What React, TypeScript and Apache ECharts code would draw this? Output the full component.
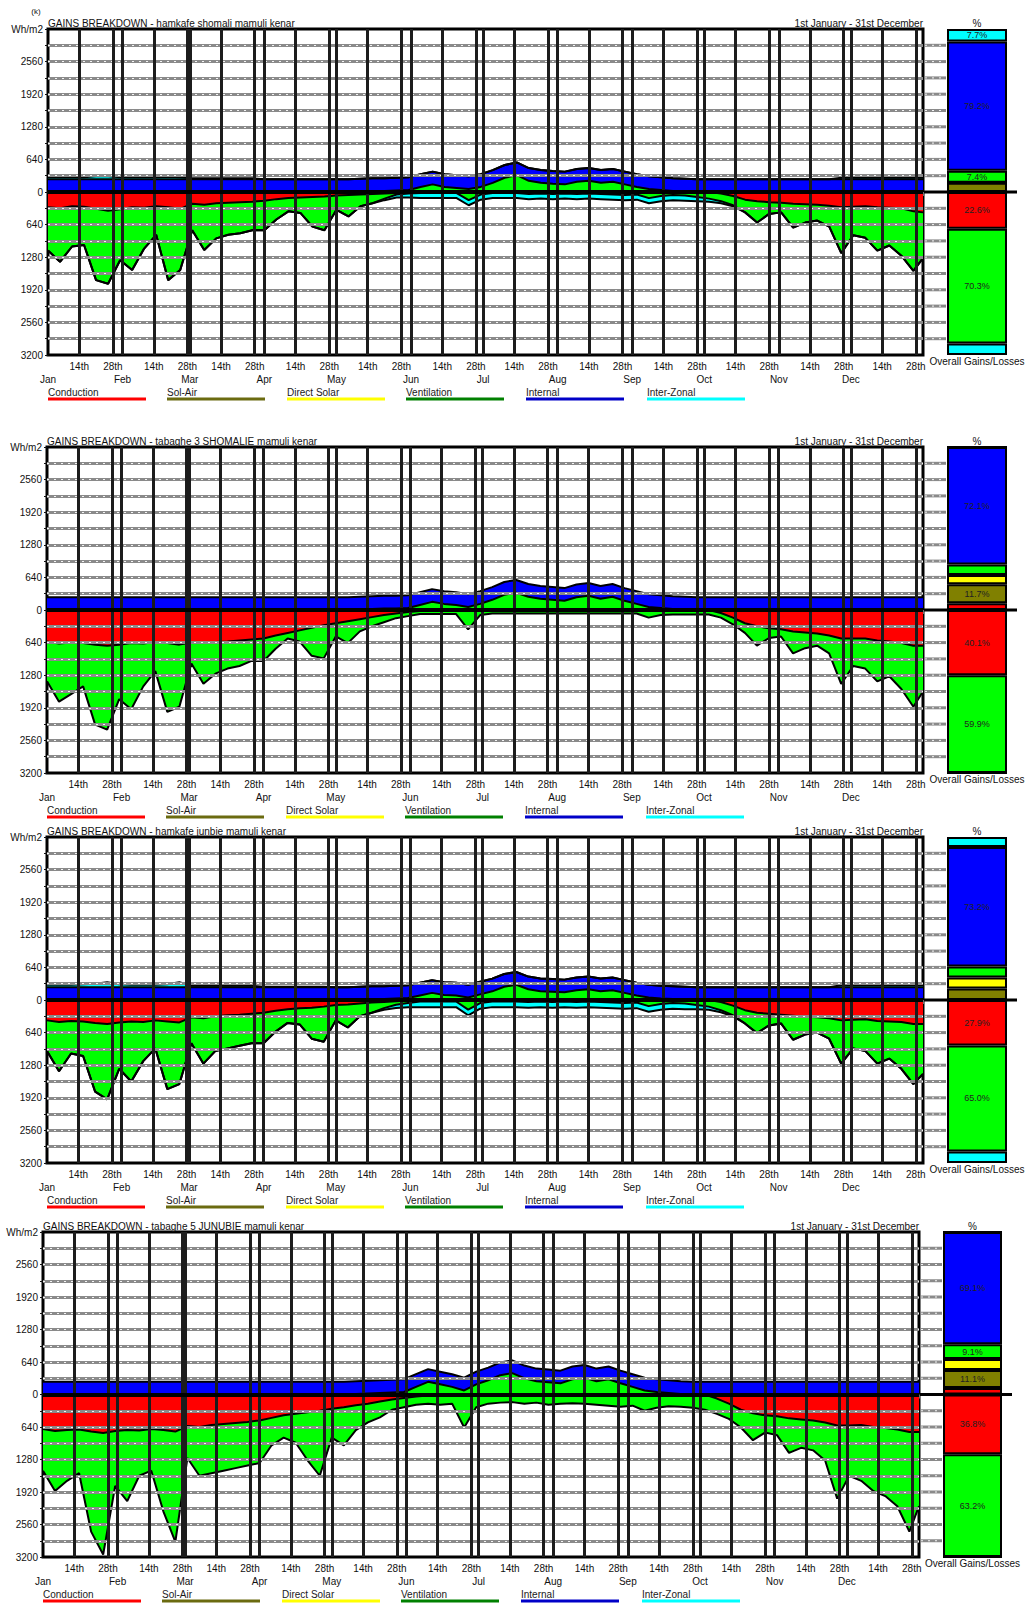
import React, { useEffect, useRef } from 'react';
import * as echarts from 'echarts';

// ---------- shared axis data ----------
const DAYS = [1,6,11,16,21,26,31,36,41,46,51,56,61,66,71,76,81,86,91,96,101,106,111,116,121,126,131,136,141,146,151,156,161,166,171,176,181,186,191,196,201,206,211,216,221,226,231,236,241,246,251,256,261,266,271,276,281,286,291,296,301,306,311,316,321,326,331,336,341,346,351,356,361,365];
const MONTHS = ['Jan','Feb','Mar','Apr','May','Jun','Jul','Aug','Sep','Oct','Nov','Dec'];
const MONTH_START_DAYS = [1,32,60,91,121,152,182,213,244,274,305,335];
const TICK_DAYS = [14,28,45,59,73,87,104,118,134,148,165,179,195,209,226,240,257,271,287,301,318,332,348,362];
const TICK_LABELS = ['14th','28th','14th','28th','14th','28th','14th','28th','14th','28th','14th','28th','14th','28th','14th','28th','14th','28th','14th','28th','14th','28th','14th','28th'];
const VLINE_DAYS = [14,28,32,45,59,60,73,87,91,104,118,121,134,148,152,165,179,182,195,209,213,226,240,244,257,271,274,287,301,305,318,332,335,348,362];
const H_GRID_VALUES = [-2880,-2560,-2240,-1920,-1600,-1280,-960,-640,-320,320,640,960,1280,1600,1920,2240,2560,2880];

const LEGEND_NAMES = ['Conduction','Sol-Air','Direct Solar','Ventilation','Internal','Inter-Zonal'];
const LEGEND_COLORS = ['#ff0000','#6b6b10','#ffff00','#008000','#0000c8','#00ffff'];
const GAIN_COLORS = ['#ff0000','#808000','#ffff00','#00ff00','#0000ff','#00ffff'];
const LOSS_COLORS = ['#ff0000','#00ff00','#00ffff'];

const TITLES = [
  'GAINS BREAKDOWN - hamkafe shomali mamuli kenar',
  'GAINS BREAKDOWN - tabaghe 3 SHOMALIE mamuli kenar',
  'GAINS BREAKDOWN - hamkafe junbie mamuli kenar',
  'GAINS BREAKDOWN - tabaghe 5 JUNUBIE mamuli kenar',
];

// ---------- panel 1 (Wh/m2, losses as magnitudes) ----------
const COND_LOSS_1 = [300,320,280,290,330,370,340,300,310,280,300,330,230,250,220,210,200,190,170,140,120,110,100,90,70,60,50,40,30,20,10,0,0,0,0,0,0,0,0,0,0,0,0,0,0,0,0,0,0,0,0,0,0,0,0,0,30,80,150,180,200,210,230,240,250,270,300,290,280,300,310,320,380,400];
const VENT_LOSS_1 = [850,1050,790,750,1400,1430,1000,1230,800,560,1430,1200,520,890,690,630,610,560,580,400,260,300,580,660,280,420,230,180,100,30,20,20,20,20,20,160,50,20,20,20,40,30,40,30,40,30,40,50,60,50,120,80,60,70,100,130,150,180,250,420,230,190,470,360,310,410,900,560,620,850,740,930,1170,900];
const IZ_LOSS_1 = [0,0,0,0,0,0,0,0,0,0,0,0,0,0,0,0,0,0,0,0,0,0,0,0,0,0,0,0,30,60,80,100,100,100,100,100,100,100,100,100,100,100,100,100,100,100,100,100,100,100,100,100,100,100,80,60,40,20,0,0,0,0,0,0,0,0,0,0,0,0,0,0,0,0];
const VENT_GAIN_1 = [0,0,0,0,0,0,0,0,0,0,0,0,0,0,0,0,0,0,0,0,0,0,0,0,0,0,10,20,20,30,40,100,150,100,80,60,100,180,280,330,220,180,160,150,200,220,180,200,150,100,60,40,20,10,0,0,0,0,0,0,0,0,0,0,0,0,0,0,0,0,0,0,0,0];
const INTERNAL_1 = [250,250,250,250,250,250,250,250,250,250,250,250,250,250,250,250,250,250,250,250,250,250,250,250,250,250,250,250,250,250,250,250,250,250,250,250,250,250,250,250,250,250,250,250,250,250,250,250,250,250,250,250,250,250,250,250,250,250,250,250,250,250,250,250,250,250,250,250,250,250,250,250,250,250];
const IZ_GAIN_1 = [40,40,40,40,60,60,40,40,40,40,50,40,20,20,20,20,20,20,0,0,0,0,0,0,0,0,0,0,0,0,0,0,0,0,0,0,0,0,0,0,0,0,0,0,0,0,0,0,0,0,0,0,0,0,0,0,0,0,0,0,0,0,0,0,0,0,30,30,30,30,30,30,30,30];
const BAR_GAINS_1 = [0,5.7,0,7.4,79.2,7.7];
const BAR_LOSSES_1 = [22.6,70.3,7.1];

// ---------- panel 2 ----------
const COND_LOSS_2 = [620,660,640,650,680,700,680,650,660,630,650,680,640,650,630,620,600,580,560,500,450,400,350,300,260,220,180,140,100,70,40,20,0,0,0,0,0,0,0,0,0,0,0,0,0,0,0,0,0,0,0,0,0,0,0,0,60,150,260,320,360,380,420,440,460,500,560,560,560,600,620,650,700,700];
const VENT_LOSS_2 = [780,1140,1010,850,1570,1650,1070,1300,840,570,1350,1220,410,800,620,530,500,420,440,260,110,220,550,650,260,430,240,180,140,90,80,60,80,80,80,380,100,70,70,70,70,70,70,70,70,70,70,70,70,70,150,100,90,90,90,90,90,130,190,380,190,140,430,310,240,350,890,540,590,800,680,900,1200,900];
const VENT_GAIN_2 = [0,0,0,0,0,0,0,0,0,0,0,0,0,0,0,0,0,0,0,0,0,0,0,0,0,0,10,20,30,30,40,100,160,120,100,60,120,200,300,340,260,220,200,180,250,280,220,260,180,120,60,40,20,10,0,0,0,0,0,0,0,0,0,0,0,0,0,0,0,0,0,0,0,0];
const INTERNAL_2 = [250,250,250,250,250,250,250,250,250,250,250,250,250,250,250,250,250,250,250,250,250,250,250,250,250,250,250,250,250,250,250,250,250,250,250,250,250,250,250,250,250,250,250,250,250,250,250,250,250,250,250,250,250,250,250,250,250,250,250,250,250,250,250,250,250,250,250,250,250,250,250,250,250,250];
const BAR_GAINS_2 = [4.1,11.7,5.6,6.5,72.1,0];
const BAR_LOSSES_2 = [40.1,59.9,0];

// ---------- panel 3 ----------
const COND_LOSS_3 = [400,430,410,420,450,470,440,420,430,400,420,440,340,360,320,300,290,270,250,210,180,160,150,130,100,90,70,50,40,25,10,0,0,0,0,0,0,0,0,0,0,0,0,0,0,0,0,0,0,0,0,0,0,0,0,0,40,110,200,250,270,290,310,330,340,360,400,390,380,410,420,430,470,470];
const VENT_LOSS_3 = [600,970,640,680,1350,1480,910,1180,770,550,1330,1210,510,890,680,650,610,580,600,410,270,320,610,690,300,450,250,200,120,70,50,30,30,30,30,190,60,30,30,30,40,30,40,30,40,30,40,50,60,50,120,80,60,70,100,130,160,190,260,400,230,170,470,350,300,400,850,560,620,840,730,920,1180,980];
const IZ_LOSS_3 = [0,0,0,0,0,0,0,0,0,0,0,0,0,0,0,0,0,0,0,0,0,0,0,0,0,0,0,0,30,60,80,110,110,110,110,110,110,110,110,110,110,110,110,110,110,110,110,110,110,110,110,110,110,110,80,60,40,20,0,0,0,0,0,0,0,0,0,0,0,0,0,0,0,0];
const VENT_GAIN_3 = [0,0,0,0,0,0,0,0,0,0,0,0,0,0,0,0,0,0,0,0,0,0,0,0,0,0,10,20,20,30,40,90,140,100,90,50,110,170,260,300,210,170,160,150,190,210,170,190,140,90,50,30,20,10,0,0,0,0,0,0,0,0,0,0,0,0,0,0,0,0,0,0,0,0];
const INTERNAL_3 = [250,250,250,250,250,250,250,250,250,250,250,250,250,250,250,250,250,250,250,250,250,250,250,250,250,250,250,250,250,250,250,250,250,250,250,250,250,250,250,250,250,250,250,250,250,250,250,250,250,250,250,250,250,250,250,250,250,250,250,250,250,250,250,250,250,250,250,250,250,250,250,250,250,250];
const IZ_GAIN_3 = [50,50,50,60,70,100,60,50,50,50,60,100,30,30,30,30,30,30,10,10,10,10,10,10,0,0,0,0,0,0,0,0,0,0,0,0,0,0,0,0,0,0,0,0,0,0,0,0,0,0,0,0,0,0,0,0,0,0,0,0,0,0,0,0,0,0,40,40,40,40,40,40,40,40];
const BAR_GAINS_3 = [0,7.0,6.8,6.8,73.2,6.2];
const BAR_LOSSES_3 = [27.9,65.0,7.1];

// ---------- panel 4 ----------
const COND_LOSS_4 = [680,720,700,690,730,760,720,700,710,680,700,730,620,640,600,580,560,540,510,460,410,380,350,320,280,250,210,180,140,100,70,40,20,0,0,0,0,0,0,0,0,0,0,0,0,0,0,0,0,0,0,0,0,0,0,0,80,180,300,370,410,430,470,490,510,550,610,610,600,640,660,690,740,740];
const VENT_LOSS_4 = [820,1180,1000,860,1970,2390,1080,1400,890,820,1600,2170,630,960,950,920,890,860,840,540,440,570,950,1280,570,750,490,370,310,200,180,160,160,200,180,650,250,180,160,150,180,160,200,180,170,180,200,220,240,220,320,260,230,240,260,300,300,300,350,530,340,370,680,560,590,750,1440,990,1100,1260,1340,1510,1960,1460];
const VENT_GAIN_4 = [0,0,0,0,0,0,0,0,0,0,0,0,0,0,0,0,0,0,0,0,0,0,0,0,0,0,10,20,30,40,50,150,250,200,150,80,200,280,380,420,320,260,240,220,300,330,260,300,220,150,80,50,30,10,0,0,0,0,0,0,0,0,0,0,0,0,0,0,0,0,0,0,0,0];
const INTERNAL_4 = [250,250,250,250,250,250,250,250,250,250,250,250,250,250,250,250,250,250,250,250,250,250,250,250,250,250,250,250,250,250,250,250,250,250,250,250,250,250,250,250,250,250,250,250,250,250,250,250,250,250,250,250,250,250,250,250,250,250,250,250,250,250,250,250,250,250,250,250,250,250,250,250,250,250];
const BAR_GAINS_4 = [4.0,11.1,6.7,9.1,69.1,0];
const BAR_LOSSES_4 = [36.8,63.2,0];

const PANELS = [
  { losses: [COND_LOSS_1, VENT_LOSS_1, IZ_LOSS_1], gains: [VENT_GAIN_1, INTERNAL_1, IZ_GAIN_1], barGains: BAR_GAINS_1, barLosses: BAR_LOSSES_1 },
  { losses: [COND_LOSS_2, VENT_LOSS_2, null], gains: [VENT_GAIN_2, INTERNAL_2, null], barGains: BAR_GAINS_2, barLosses: BAR_LOSSES_2 },
  { losses: [COND_LOSS_3, VENT_LOSS_3, IZ_LOSS_3], gains: [VENT_GAIN_3, INTERNAL_3, IZ_GAIN_3], barGains: BAR_GAINS_3, barLosses: BAR_LOSSES_3 },
  { losses: [COND_LOSS_4, VENT_LOSS_4, null], gains: [VENT_GAIN_4, INTERNAL_4, null], barGains: BAR_GAINS_4, barLosses: BAR_LOSSES_4 },
];
const AREA_LOSS_COLORS = ['#ff0000', '#00ff00', '#00ffff'];
const AREA_GAIN_COLORS = ['#00ff00', '#0000ff', '#00ffff'];

// ---------- layout ----------
const LAYOUT = [
  { left: 48, right: 923, top: 29, h: 326, barL: 947, barR: 1007 },
  { left: 47, right: 923, top: 447, h: 326, barL: 947, barR: 1007 },
  { left: 47, right: 923, top: 837, h: 326, barL: 947, barR: 1007 },
  { left: 43, right: 919, top: 1232, h: 325, barL: 943, barR: 1002 },
];
const LEGEND_OFFSETS = [0, 119, 239, 358, 478, 599];
const FONT = '"Liberation Sans", Arial, Helvetica, sans-serif';

function text(x: number, y: number, s: string, align: string, vAlign: string, size = 10, fill = '#111') {
  return {
    type: 'text', x, y, silent: true,
    style: { text: s, fontSize: size, fontFamily: FONT, fill, align, verticalAlign: vAlign, textAlign: align, textVerticalAlign: vAlign },
  };
}
function line(x1: number, y1: number, x2: number, y2: number, stroke: string, w: number, dash?: number[]) {
  const style: any = { stroke, lineWidth: w };
  if (dash) style.lineDash = dash;
  return { type: 'line', silent: true, shape: { x1, y1, x2, y2 }, style };
}

function buildOption() {
  const grid: any[] = [], xAxis: any[] = [], yAxis: any[] = [], series: any[] = [], graphic: any[] = [];
  const tickMap: Record<number, string> = {};
  TICK_DAYS.forEach((d, i) => { tickMap[d] = TICK_LABELS[i]; });
  const monthMap: Record<number, string> = {};
  MONTH_START_DAYS.forEach((d, i) => { monthMap[d] = MONTHS[i]; });
  const allDays: number[] = [];
  for (let d = 1; d <= 365; d++) allDays.push(d);

  PANELS.forEach((pd, i) => {
    const L = LAYOUT[i];
    const gMain = grid.length;
    grid.push({ left: L.left, top: L.top, width: L.right - L.left, height: L.h, show: true, borderColor: '#000', borderWidth: 3, backgroundColor: '#fff', containLabel: false, outerBoundsMode: 'none' });
    const gBar = grid.length;
    grid.push({ left: L.barL, top: L.top, width: L.barR - L.barL, height: L.h, show: false, containLabel: false, outerBoundsMode: 'none' });

    const xMain = xAxis.length;
    xAxis.push({
      type: 'value', gridIndex: gMain, min: 1, max: 365, position: 'bottom',
      axisLine: { show: false }, splitLine: { show: false },
      axisTick: { show: true, customValues: allDays, length: 4, lineStyle: { color: '#707070', width: 1 } },
      axisLabel: { show: true, customValues: TICK_DAYS, formatter: (v: number) => tickMap[v] ?? '', fontSize: 10, color: '#111', fontFamily: FONT, margin: 6, hideOverlap: false },
    });
    xAxis.push({
      type: 'value', gridIndex: gMain, min: 1, max: 365, position: 'bottom', offset: 14,
      axisLine: { show: false }, axisTick: { show: false }, splitLine: { show: false },
      axisLabel: { show: true, customValues: MONTH_START_DAYS, formatter: (v: number) => monthMap[v] ?? '', fontSize: 10, color: '#111', fontFamily: FONT, margin: 5, hideOverlap: false },
    });
    const xBar = xAxis.length;
    xAxis.push({ type: 'category', gridIndex: gBar, data: ['Overall'], show: false });

    const yMain = yAxis.length;
    yAxis.push({
      type: 'value', gridIndex: gMain, min: -3200, max: 3200, interval: 320,
      axisLine: { show: false }, splitLine: { show: false },
      axisTick: { show: true, length: 3, lineStyle: { color: '#111' } },
      axisLabel: {
        fontSize: 10, color: '#111', fontFamily: FONT, margin: 5, showMinLabel: true, showMaxLabel: true,
        formatter: (v: number) => (v === 3200 ? 'Wh/m2' : (Math.abs(v) % 640 === 0 ? String(Math.abs(v)) : '')),
      },
    });
    const yBar = yAxis.length;
    yAxis.push({ type: 'value', gridIndex: gBar, min: -100, max: 100, show: false });

    // Stacked bands painted outermost-first, each filled from zero, so inner bands overlay outer ones.
    const addStack = (layers: (number[] | null)[], colors: string[], sign: number) => {
      const cum: { vals: number[]; color: string }[] = [];
      let run = DAYS.map(() => 0);
      layers.forEach((layer, k) => {
        if (!layer) return;
        run = run.map((r, j) => r + layer[j]);
        cum.push({ vals: run.slice(), color: colors[k] });
      });
      for (let k = cum.length - 1; k >= 0; k--) {
        const c = cum[k];
        series.push({
          type: 'line', xAxisIndex: xMain, yAxisIndex: yMain,
          data: DAYS.map((d, j) => [d, sign * c.vals[j]]),
          symbol: 'none', showSymbol: false, silent: true, z: 2,
          lineStyle: { color: '#000', width: 2 },
          areaStyle: { color: c.color, opacity: 1, origin: 0 },
          emphasis: { disabled: true },
        });
      }
    };
    addStack(pd.losses, AREA_LOSS_COLORS, -1);
    addStack(pd.gains, AREA_GAIN_COLORS, 1);

    // grid lines drawn over the areas
    const mlData: any[] = [];
    H_GRID_VALUES.forEach((v) => mlData.push({ yAxis: v, lineStyle: { color: '#8a8a8a', width: 3, type: 'solid' } }));
    H_GRID_VALUES.forEach((v) => mlData.push({ yAxis: v, lineStyle: { color: '#f4f4f4', width: 1, type: [2, 5] } }));
    VLINE_DAYS.forEach((d) => mlData.push({ xAxis: d, lineStyle: { color: '#1c1c1c', width: 3, type: 'solid' } }));
    mlData.push({ yAxis: 0, lineStyle: { color: '#000', width: 4, type: 'solid' } });
    series.push({
      type: 'line', xAxisIndex: xMain, yAxisIndex: yMain, data: [[1, 0]], symbol: 'none', showSymbol: false,
      lineStyle: { width: 0, opacity: 0 }, silent: true, z: 3,
      markLine: { silent: true, symbol: ['none', 'none'], label: { show: false }, animation: false, data: mlData },
    });

    // overall percentage bar
    const labelFmt = (p: any) => (Math.abs(p.value) >= 7.2 ? Math.abs(p.value).toFixed(1) + '%' : '');
    pd.barGains.forEach((v, k) => series.push({
      type: 'bar', xAxisIndex: xBar, yAxisIndex: yBar, stack: 'bar' + i, barWidth: '100%', data: [v], silent: true,
      itemStyle: { color: GAIN_COLORS[k], borderColor: '#000', borderWidth: 2 },
      label: { show: true, position: 'inside', formatter: labelFmt, fontSize: 9, color: '#222', fontFamily: FONT },
    }));
    pd.barLosses.forEach((v, k) => series.push({
      type: 'bar', xAxisIndex: xBar, yAxisIndex: yBar, stack: 'bar' + i, barWidth: '100%', data: [-v], silent: true,
      itemStyle: { color: LOSS_COLORS[k], borderColor: '#000', borderWidth: 2 },
      label: { show: true, position: 'inside', formatter: labelFmt, fontSize: 9, color: '#222', fontFamily: FONT },
    }));

    // decorations
    const bottom = L.top + L.h;
    const zeroY = L.top + L.h / 2;
    const barC = (L.barL + L.barR) / 2;
    for (let k = -9; k <= 9; k++) {
      if (k === 0) continue;
      const y = zeroY - (k * L.h) / 20;
      graphic.push(line(L.right + 2, y, L.barL - 1, y, '#8a8a8a', 3));
      graphic.push(line(L.right + 2, y, L.barL - 1, y, '#f4f4f4', 1, [2, 5]));
    }
    graphic.push(line(L.right, zeroY, L.right + 12, zeroY, '#000', 3));
    graphic.push(line(L.barL - 12, zeroY, L.barR + 10, zeroY, '#000', 3));
    graphic.push(text(L.left, L.top - 1, TITLES[i], 'left', 'bottom'));
    graphic.push(text(L.right, L.top - 1, '1st January - 31st December', 'right', 'bottom'));
    graphic.push(text(barC, L.top - 1, '%', 'center', 'bottom'));
    graphic.push(text(barC, bottom + 1, 'Overall Gains/Losses', 'center', 'top'));
    LEGEND_NAMES.forEach((name, k) => {
      const x = L.left + LEGEND_OFFSETS[k];
      graphic.push(text(x, bottom + 42, name, 'left', 'bottom', 10, '#1a1a1a'));
      graphic.push(line(x, bottom + 44, x + 98, bottom + 44, LEGEND_COLORS[k], 3));
    });
  });
  graphic.push(text(36, 11, '(k)', 'center', 'middle', 8));

  return { animation: false, backgroundColor: '#fff', grid, xAxis, yAxis, series, graphic };
}

export default function App() {
  const ref = useRef<HTMLDivElement>(null);
  useEffect(() => {
    document.body.style.margin = '0';
    const chart = echarts.init(ref.current as HTMLDivElement, null, { renderer: 'svg' });
    chart.setOption(buildOption() as any);
    return () => chart.dispose();
  }, []);
  return <div ref={ref} style={{ width: 1029, height: 1606, background: '#fff' }} />;
}
